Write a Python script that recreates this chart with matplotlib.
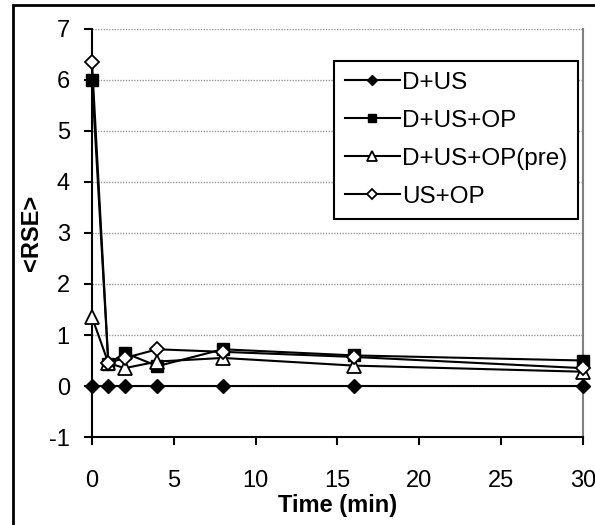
import numpy as np
import matplotlib.pyplot as plt
from matplotlib.patches import Rectangle

# <RSE> over time for the four treatments

time_min = [0, 1, 2, 4, 8, 16, 30]
d_us = [0, 0, 0, 0, 0, 0, 0]
d_us_op = [6.0, 0.43, 0.65, 0.39, 0.72, 0.6, 0.5]
d_us_op_pre = [1.35, 0.45, 0.35, 0.48, 0.55, 0.4, 0.28]
us_op = [6.35, 0.45, 0.55, 0.72, 0.67, 0.57, 0.35]

labels = ['D+US', 'D+US+OP', 'D+US+OP(pre)', 'US+OP']

plt.rcParams['font.family'] = ['Liberation Sans', 'DejaVu Sans']
plt.rcParams['axes.unicode_minus'] = False


def main():
    fig = plt.figure(figsize=(5.95, 5.25), dpi=100)
    ax = fig.add_axes([0.1546, 0.1676, 0.8252, 0.7772])

    # outer frame of the chart
    fig.patches.append(Rectangle((0.0218, -0.05), 1.2, 1.0405, transform=fig.transFigure,
                                 fill=False, edgecolor='black', linewidth=2, clip_on=False))

    ax.plot(time_min, d_us, color='black', lw=1.5, marker='D', ms=7,
            mfc='black', mec='black', label=labels[0], clip_on=False, zorder=3)
    ax.plot(time_min, d_us_op, color='black', lw=1.5, marker='s', ms=8,
            mfc='black', mec='black', label=labels[1], clip_on=False, zorder=3)
    ax.plot(time_min, d_us_op_pre, color='black', lw=1.5, marker='^', ms=10,
            mfc='white', mec='black', mew=1.3, label=labels[2], clip_on=False, zorder=3)
    ax.plot(time_min, us_op, color='black', lw=1.5, marker='D', ms=7,
            mfc='white', mec='black', mew=1.3, label=labels[3], clip_on=False, zorder=3)

    ax.set_xlim(0, 30)
    ax.set_ylim(-1, 7)
    ax.set_xticks([0, 5, 10, 15, 20, 25, 30])
    ax.set_yticks(range(-1, 8))
    ax.yaxis.grid(True, color='#999999', linestyle=(0, (1, 1)), linewidth=1)
    ax.set_axisbelow(True)

    ax.spines['top'].set_visible(False)
    ax.spines['right'].set_color('#808080')
    ax.spines['right'].set_linewidth(1.5)
    ax.spines['left'].set_linewidth(1.5)
    ax.spines['bottom'].set_linewidth(1.5)
    ax.tick_params(axis='both', direction='out', length=6, width=1.5, labelsize=17)
    ax.tick_params(axis='y', pad=10)
    ax.tick_params(axis='x', pad=18)

    ax.set_xlabel('Time (min)', fontsize=17, fontweight='bold', labelpad=1)
    ax.set_ylabel('<RSE>', fontsize=17, fontweight='bold', labelpad=4)

    leg = ax.legend(loc='upper right', bbox_to_anchor=(0.99, 0.922), fontsize=17.5,
                    fancybox=False, framealpha=1, edgecolor='black', borderpad=0.45,
                    handlelength=2.3, handletextpad=0.06, labelspacing=0.66,
                    borderaxespad=0, markerscale=0.7)
    leg.get_frame().set_linewidth(1.5)

    plt.savefig('out.png', dpi=100)


if __name__ == '__main__':
    main()
